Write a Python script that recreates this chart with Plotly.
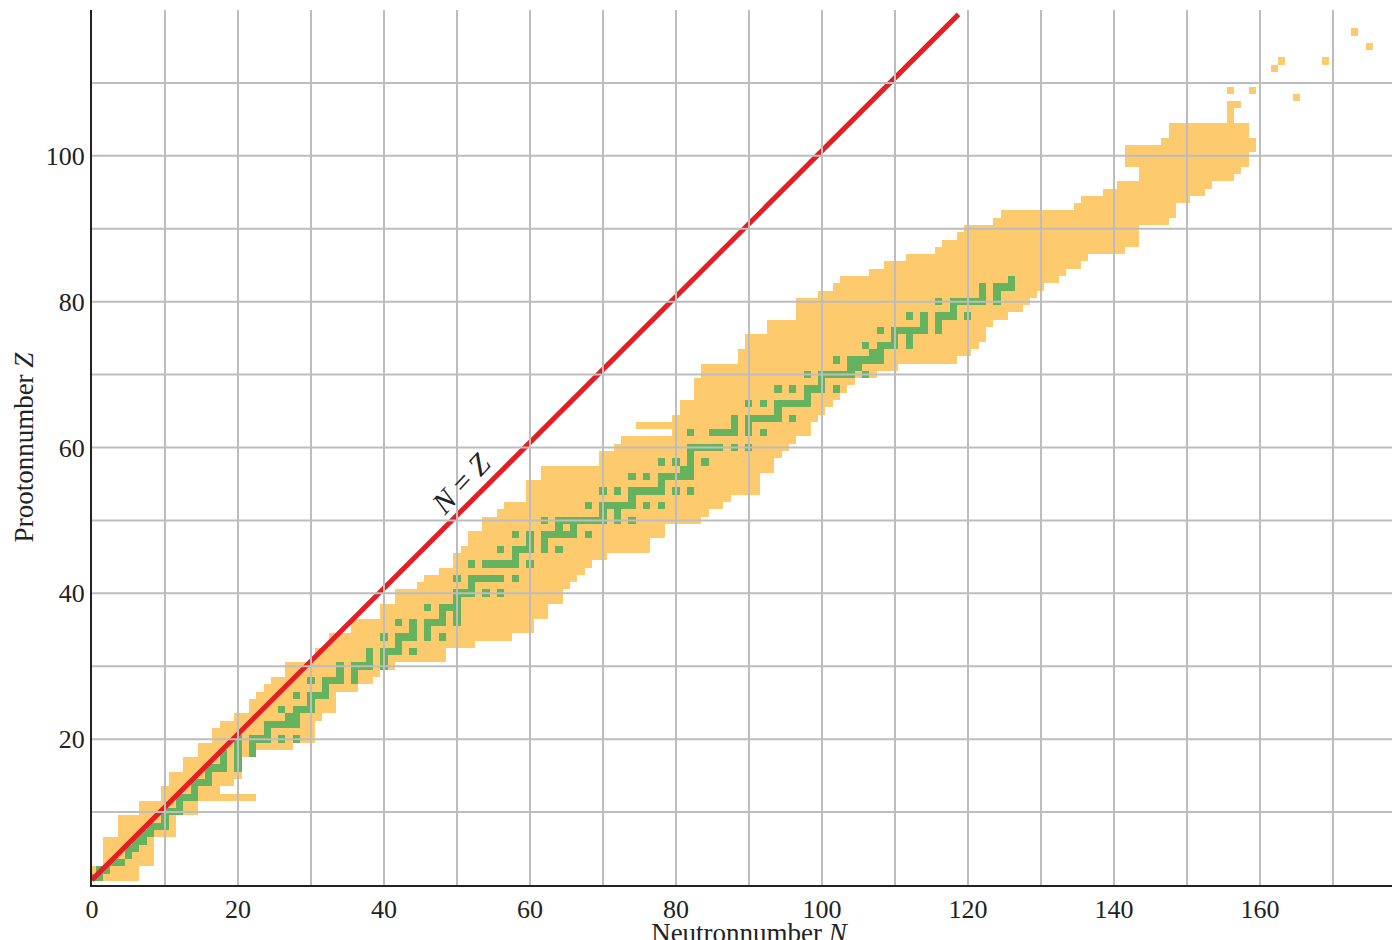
import numpy as np
import plotly.graph_objects as go

# Known nuclides: for each proton number Z, the range of neutron numbers (estimated)
band_Z = list(range(1, 107))
band_Nmin = [0, 0, 2, 2, 2, 2, 4, 4, 4, 7, 7, 10, 10, 11, 11, 13, 13, 15, 15, 17,
             17, 18, 20, 22, 22, 23, 24, 25, 27, 27, 31, 31, 33, 33, 36, 36, 40, 40, 42, 42,
             45, 46, 48, 50, 50, 51, 52, 52, 54, 54, 56, 57, 60, 60, 60, 62, 62, 70, 70, 72,
             73, 80, 75, 80, 81, 81, 83, 83, 83, 84, 84, 89, 89, 90, 90, 93, 93, 97, 97, 97,
             100, 102, 103, 107, 109, 112, 116, 117, 119, 120, 124, 125, 135, 136, 139, 141, 144, 144, 142, 142,
             142, 147, 148, 148, 156, 156]
band_Nmax = [6, 6, 8, 8, 8, 8, 11, 11, 11, 14, 14, 22, 17, 19, 20, 20, 20, 21, 27, 30,
             30, 30, 31, 33, 33, 33, 36, 38, 39, 41, 48, 48, 52, 57, 60, 60, 62, 62, 64, 64,
             65, 66, 67, 68, 70, 76, 76, 78, 78, 83, 84, 86, 87, 91, 91, 91, 93, 93, 94, 95,
             96, 98, 98, 99, 100, 101, 102, 103, 104, 107, 110, 118, 120, 121, 122, 122, 123, 125, 127, 128,
             129, 130, 132, 133, 135, 136, 141, 143, 143, 143, 147, 148, 148, 150, 152, 153, 156, 157, 158, 158,
             159, 159, 158, 158, 156, 156]

# Isolated heavy nuclides
extra_N = [156, 156, 157, 159, 165, 162, 163, 169, 173, 175]
extra_Z = [109, 107, 107, 109, 108, 112, 113, 113, 117, 115]

# Stable nuclides: neutron numbers per proton number Z
stable_N = {
    1: [0, 1], 2: [1, 2], 3: [3, 4], 4: [5], 5: [5, 6], 6: [6, 7], 7: [7, 8],
    8: [8, 9, 10], 9: [10], 10: [10, 11, 12], 11: [12], 12: [12, 13, 14], 13: [14],
    14: [14, 15, 16], 15: [16], 16: [16, 17, 18, 20], 17: [18, 20], 18: [18, 20, 22],
    19: [20, 22], 20: [20, 22, 23, 24, 26, 28], 21: [24], 22: [24, 25, 26, 27, 28],
    23: [27, 28], 24: [26, 28, 29, 30], 25: [30], 26: [28, 30, 31, 32], 27: [32],
    28: [30, 32, 33, 34, 36], 29: [34, 36], 30: [34, 36, 37, 38, 40], 31: [38, 40],
    32: [38, 40, 41, 42, 44], 33: [42], 34: [40, 42, 43, 44, 46, 48], 35: [44, 46],
    36: [42, 44, 46, 47, 48, 50], 37: [48, 50], 38: [46, 48, 49, 50], 39: [50],
    40: [50, 51, 52, 54, 56], 41: [52], 42: [50, 52, 53, 54, 55, 56, 58],
    44: [52, 54, 55, 56, 57, 58, 60], 45: [58], 46: [56, 58, 59, 60, 62, 64],
    47: [60, 62], 48: [58, 60, 62, 63, 64, 65, 66, 68], 49: [64, 66],
    50: [62, 64, 65, 66, 67, 68, 69, 70, 72, 74], 51: [70, 72],
    52: [68, 70, 71, 72, 73, 74, 76, 78], 53: [74], 54: [70, 72, 74, 75, 76, 77, 78, 80, 82],
    55: [78], 56: [74, 76, 78, 79, 80, 81, 82], 57: [81, 82], 58: [78, 80, 82, 84],
    59: [82], 60: [82, 83, 84, 85, 86, 88, 90], 62: [82, 85, 86, 87, 88, 90, 92],
    63: [88, 90], 64: [88, 90, 91, 92, 93, 94, 96], 65: [94],
    66: [90, 92, 94, 95, 96, 97, 98], 67: [98], 68: [94, 96, 98, 99, 100, 102],
    69: [100], 70: [98, 100, 101, 102, 103, 104, 106], 71: [104, 105],
    72: [102, 104, 105, 106, 107, 108], 73: [107, 108], 74: [106, 108, 109, 110, 112],
    75: [110, 112], 76: [108, 110, 111, 112, 113, 114, 116], 77: [114, 116],
    78: [112, 114, 116, 117, 118, 120], 79: [118], 80: [116, 118, 119, 120, 121, 122, 124],
    81: [122, 124], 82: [122, 124, 125, 126], 83: [126],
}

x_ticks = [0, 20, 40, 60, 80, 100, 120, 140, 160]
y_ticks = [20, 40, 60, 80, 100]

YELLOW = "#FDCB6E"
GREEN = "#65B35F"
RED = "#E31E25"
GRID = "#BDBDBD"

NMAX, ZMAX = 180, 120
grid = np.full((ZMAX + 1, NMAX + 1), np.nan)
for z, a, b in zip(band_Z, band_Nmin, band_Nmax):
    grid[z, a:b + 1] = 1
for n, z in zip(extra_N, extra_Z):
    grid[z, n] = 1
for z, ns in stable_N.items():
    for n in ns:
        grid[z, n] = 2

fig = go.Figure()
fig.add_trace(go.Heatmap(
    z=grid, x=np.arange(NMAX + 1), y=np.arange(ZMAX + 1),
    zmin=1, zmax=2, showscale=False, hoverinfo="skip",
    colorscale=[[0, YELLOW], [0.5, YELLOW], [0.5, GREEN], [1, GREEN]],
))
fig.add_trace(go.Scatter(x=[0, 118.7], y=[0.7, 119.4], mode="lines",
                         line=dict(color=RED, width=5), hoverinfo="skip", showlegend=False))

shapes = []
for v in range(10, 180, 10):
    shapes.append(dict(type="line", xref="x", yref="y", x0=v, x1=v, y0=0, y1=ZMAX,
                       line=dict(color=GRID, width=2), layer="above"))
for v in range(10, 120, 10):
    shapes.append(dict(type="line", xref="x", yref="y", x0=0, x1=NMAX, y0=v, y1=v,
                       line=dict(color=GRID, width=2), layer="above"))

fig.update_layout(
    width=1400, height=940, plot_bgcolor="white", paper_bgcolor="white",
    margin=dict(l=84, r=2, t=2, b=63), shapes=shapes, showlegend=False,
    font=dict(family="Liberation Serif", size=26, color="#222"),
    annotations=[dict(x=50.5, y=55, xref="x", yref="y", text="<i>N</i> = <i>Z</i>",
                      showarrow=False, textangle=-47, font=dict(size=30, color="#222"))],
)
fig.update_xaxes(range=[0, NMAX], tickvals=x_ticks, showgrid=False, zeroline=False,
                 showline=True, linecolor="#222", linewidth=2, ticks="", automargin=False,
                 tickfont=dict(size=26),
                 title=dict(text="Neutronnumber <i>N</i>", standoff=0, font=dict(size=27)))
fig.update_yaxes(range=[0, ZMAX], tickvals=y_ticks, showgrid=False, zeroline=False,
                 showline=True, linecolor="#222", linewidth=2, ticks="", automargin=False,
                 tickfont=dict(size=26),
                 title=dict(text="Prootonnumber <i>Z</i>", standoff=4, font=dict(size=27)))

fig.write_html("out.html")
